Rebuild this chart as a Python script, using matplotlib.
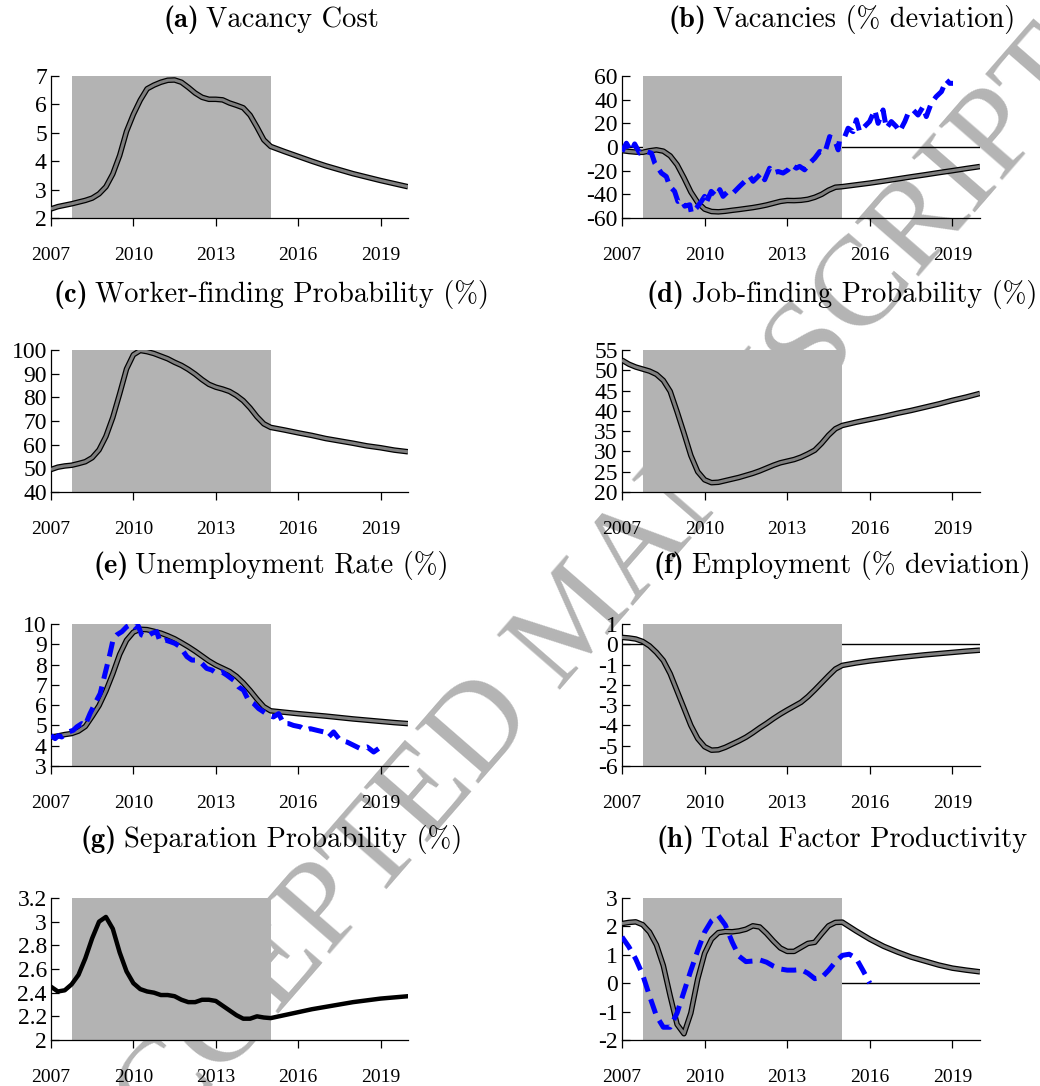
import numpy as np
import matplotlib
matplotlib.use("Agg")
import matplotlib.pyplot as plt

plt.rcParams['axes.unicode_minus'] = False
plt.rcParams['font.family'] = ['Liberation Serif', 'DejaVu Serif']

# --- time grid: quarterly during the episode, half-yearly afterwards ---
q_years = 2007 + 0.25 * np.arange(33)          # 2007.00 ... 2015.00
tail_years = [2015.5, 2016, 2016.5, 2017, 2017.5, 2018, 2018.5, 2019, 2019.5, 2020]
model_years = list(q_years) + tail_years

# --- model series (double line) ---
vac_cost = [2.32, 2.40, 2.45, 2.50, 2.56, 2.62, 2.70, 2.85, 3.10, 3.55, 4.20, 5.05,
            5.65, 6.15, 6.55, 6.68, 6.78, 6.85, 6.86, 6.78, 6.60, 6.40, 6.25, 6.18,
            6.18, 6.16, 6.05, 5.97, 5.88, 5.62, 5.20, 4.75, 4.52,
            4.34, 4.17, 4.00, 3.84, 3.70, 3.56, 3.44, 3.32, 3.21, 3.10]
vacancies = [-3.0, -3.8, -4.3, -4.5, -3.2, -2.4, -3.5, -7.5, -15, -26, -38, -47,
             -52.5, -54.5, -54.8, -54.3, -53.5, -52.8, -52.0, -51.2, -50.2, -49.0, -47.5, -46.0,
             -45.2, -45.3, -45.0, -44.2, -42.5, -40.0, -36.5, -34.0, -33.5,
             -32.0, -30.5, -28.8, -27.0, -25.2, -23.5, -21.7, -20.0, -18.2, -16.5]
worker_find = [49.5, 50.5, 51.0, 51.3, 52.0, 52.8, 54.5, 57.8, 63.5, 71.5, 81.5, 92.0,
               98.0, 99.8, 99.3, 98.5, 97.4, 96.3, 94.8, 93.5, 91.8, 89.8, 87.5, 85.5,
               84.3, 83.5, 82.5, 80.8, 78.6, 75.5, 71.8, 68.8, 67.3,
               66.2, 65.0, 63.9, 62.6, 61.6, 60.6, 59.5, 58.7, 57.7, 57.0]
job_find = [52.5, 51.5, 50.8, 50.3, 49.8, 49.0, 47.5, 44.8, 39.8, 34.5, 29.0, 25.0,
            23.0, 22.3, 22.4, 22.8, 23.2, 23.6, 24.1, 24.6, 25.2, 25.9, 26.6, 27.2,
            27.6, 28.0, 28.6, 29.4, 30.3, 32.0, 34.0, 35.6, 36.4,
            37.2, 37.9, 38.6, 39.4, 40.1, 40.9, 41.7, 42.6, 43.4, 44.3]
unemp = [4.43, 4.48, 4.55, 4.60, 4.72, 4.95, 5.45, 5.98, 6.70, 7.55, 8.50, 9.20,
         9.60, 9.74, 9.72, 9.64, 9.55, 9.42, 9.27, 9.08, 8.88, 8.66, 8.42, 8.18,
         7.98, 7.82, 7.66, 7.42, 7.10, 6.72, 6.30, 5.92, 5.72,
         5.65, 5.58, 5.52, 5.46, 5.39, 5.32, 5.26, 5.20, 5.14, 5.09]
employ = [0.34, 0.31, 0.26, 0.14, -0.08, -0.40, -0.80, -1.45, -2.30, -3.15, -4.00, -4.65,
          -5.05, -5.22, -5.20, -5.08, -4.92, -4.76, -4.58, -4.36, -4.12, -3.90, -3.66, -3.44,
          -3.24, -3.05, -2.86, -2.58, -2.25, -1.90, -1.55, -1.22, -1.04,
          -0.92, -0.82, -0.74, -0.66, -0.59, -0.52, -0.46, -0.40, -0.34, -0.29]
separation = [2.45, 2.41, 2.42, 2.47, 2.55, 2.69, 2.86, 3.00, 3.04, 2.94, 2.74, 2.58,
              2.48, 2.43, 2.41, 2.40, 2.38, 2.38, 2.37, 2.34, 2.32, 2.32, 2.34, 2.34,
              2.33, 2.29, 2.25, 2.21, 2.18, 2.18, 2.20, 2.19, 2.185,
              2.21, 2.235, 2.26, 2.28, 2.30, 2.32, 2.335, 2.35, 2.36, 2.37]
tfp = [2.10, 2.14, 2.16, 2.06, 1.80, 1.35, 0.62, -0.45, -1.45, -1.78, -1.05, 0.15,
       1.05, 1.55, 1.78, 1.82, 1.81, 1.84, 1.90, 2.02, 1.98, 1.75, 1.48, 1.24,
       1.12, 1.12, 1.26, 1.40, 1.44, 1.74, 2.02, 2.14, 2.15,
       1.84, 1.55, 1.30, 1.10, 0.92, 0.78, 0.64, 0.53, 0.46, 0.40]

# --- data series (blue dashed) ---
vac_data_x = [2007.00, 2007.16, 2007.34, 2007.46, 2007.64, 2007.88, 2008.07, 2008.19, 2008.43,
              2008.61, 2008.73, 2008.91, 2009.03, 2009.15, 2009.28, 2009.46, 2009.52, 2009.70,
              2009.88, 2010.00, 2010.06, 2010.24, 2010.43, 2010.55, 2010.67, 2010.85, 2011.03,
              2011.27, 2011.52, 2011.64, 2011.76, 2011.94, 2012.06, 2012.18, 2012.36, 2012.48,
              2012.67, 2012.85, 2013.03, 2013.15, 2013.33, 2013.45, 2013.63, 2013.82, 2014.00,
              2014.18, 2014.36, 2014.54, 2014.72, 2014.85, 2014.90, 2015.09, 2015.21, 2015.39,
              2015.51, 2015.63, 2015.81, 2015.99, 2016.18, 2016.30, 2016.48, 2016.60, 2016.78,
              2016.96, 2017.08, 2017.27, 2017.39, 2017.57, 2017.75, 2017.93, 2018.05, 2018.23,
              2018.41, 2018.60, 2018.78, 2018.90, 2019.02]
vac_data = [-3.8, 3.2, -3.8, 2.6, -5.2, -3.8, -5.2, -13.6, -22,
            -25, -33, -37.5, -46, -44.5, -50, -48.8, -55.8, -51.6,
            -46, -41.7, -47, -37.5, -41.7, -36, -41.7, -37.5, -39,
            -33.3, -27.7, -24.9, -29, -24.9, -22, -27.7, -17.9, -22,
            -20.7, -22, -19.3, -15, -17.9, -16.4, -19.3, -13.6, -9.4,
            -3.8, -5.2, 8.8, 6, -2.4, 6, 8.8, 15.9, 13,
            23, 13, 17.3, 21.5, 31.3, 20, 31.3, 15.9, 21.5,
            17.3, 13, 21.5, 28.5, 31.3, 27, 34, 25.7, 37,
            42.6, 46.8, 56.6, 53.8, 53.8]

unemp_data_x = [2007.00, 2007.15, 2007.27, 2007.39, 2007.63, 2007.81, 2007.94, 2008.12, 2008.24,
                2008.42, 2008.60, 2008.79, 2008.97, 2009.15, 2009.27, 2009.39, 2009.58, 2009.76,
                2009.94, 2010.06, 2010.18, 2010.30, 2010.49, 2010.67, 2010.85, 2010.97, 2011.16,
                2011.34, 2011.52, 2011.70, 2011.95, 2012.13, 2012.31, 2012.49, 2012.67, 2012.86,
                2013.04, 2013.22, 2013.40, 2013.65, 2013.83, 2014.01, 2014.19, 2014.38, 2014.56,
                2014.74, 2014.92, 2015.10, 2015.29, 2015.47, 2015.65, 2015.83, 2016.08, 2016.26,
                2016.44, 2016.68, 2016.93, 2017.11, 2017.29, 2017.53, 2017.78, 2018.02, 2018.26,
                2018.51, 2018.75, 2018.93]
unemp_data = [4.51, 4.35, 4.50, 4.43, 4.68, 4.76, 4.93, 5.09, 5.00,
              5.58, 6.08, 6.57, 7.56, 8.55, 9.29, 9.46, 9.62, 9.87,
              10.0, 9.84, 9.90, 9.46, 9.37, 9.54, 9.62, 9.13, 9.21,
              9.13, 9.04, 8.88, 8.39, 8.22, 8.22, 8.06, 7.81, 7.73,
              7.56, 7.64, 7.48, 7.23, 6.90, 6.74, 6.24, 6.08, 5.83,
              5.67, 5.50, 5.42, 5.58, 5.09, 5.09, 5.00, 4.93, 4.76,
              4.84, 4.76, 4.68, 4.43, 4.68, 4.27, 4.18, 4.02, 3.86,
              3.94, 3.69, 3.86]

tfp_data_x = list(2007 + 0.25 * np.arange(37))   # 2007.00 ... 2016.00
tfp_data = [1.63, 1.28, 0.85, 0.30, -0.45, -1.15, -1.55, -1.55, -1.05, -0.30, 0.45, 1.15,
            1.80, 2.20, 2.38, 2.05, 1.45, 0.95, 0.76, 0.78, 0.82, 0.74, 0.60, 0.50,
            0.46, 0.46, 0.48, 0.35, 0.16, 0.20, 0.45, 0.75, 0.98, 1.02, 0.88, 0.45, 0.00]

title_tags = ["(a)", "(b)", "(c)", "(d)", "(e)", "(f)", "(g)", "(h)"]
title_names = ["Vacancy Cost", "Vacancies (% deviation)",
               "Worker-finding Probability (%)", "Job-finding Probability (%)",
               "Unemployment Rate (%)", "Employment (% deviation)",
               "Separation Probability (%)", "Total Factor Productivity"]
x_ticks = [2007, 2010, 2013, 2016, 2019]
y_ticks = [[2, 3, 4, 5, 6, 7],
           [-60, -40, -20, 0, 20, 40, 60],
           [40, 50, 60, 70, 80, 90, 100],
           [20, 25, 30, 35, 40, 45, 50, 55],
           [3, 4, 5, 6, 7, 8, 9, 10],
           [-6, -5, -4, -3, -2, -1, 0, 1],
           [2, 2.2, 2.4, 2.6, 2.8, 3, 3.2],
           [-2, -1, 0, 1, 2, 3]]
models = [vac_cost, vacancies, worker_find, job_find, unemp, employ, separation, tfp]

W, H = 1040, 1086
fig = plt.figure(figsize=(W / 100, H / 100), dpi=100)
renderer = fig.canvas.get_renderer()

# watermark
fig.text(578 / W, 1 - 622 / H, "ACCEPTED MANUSCRIPT", fontsize=92, color='#b4b4b4',
         rotation=49, ha='center', va='center', rotation_mode='anchor',
         family='Liberation Serif', zorder=-5)

lefts = [51, 622]
widths = [357, 358]
tops = [76, 350, 624, 898]
title_x = [271, 842]
title_base = [26.7, 301.7, 572.5, 846.7]

for i in range(8):
    r, c = divmod(i, 2)
    ax = fig.add_axes([lefts[c] / W, 1 - (tops[r] + 142) / H, widths[c] / W, 142 / H])
    ax.patch.set_alpha(0)
    yt = y_ticks[i]
    ax.set_xlim(2007, 2020)
    ax.set_ylim(yt[0], yt[-1])
    ax.axvspan(2007.75, 2015, color='#b3b3b3', lw=0, zorder=1)

    if i in (1, 5):
        ax.axhline(0, color='black', lw=1.0, zorder=0.5)
    if i == 7:
        ax.plot([2015, 2020], [0, 0], color='black', lw=1.0, zorder=0.5)

    if i == 6:
        ax.plot(model_years, models[i], color='black', lw=3.2, zorder=3)
    else:
        ax.plot(model_years, models[i], color='black', lw=4.0, zorder=3,
                solid_capstyle='butt')
        ax.plot(model_years, models[i], color='#7f7f7f', lw=2.2, zorder=4,
                solid_capstyle='butt')

    if i == 1:
        ax.plot(vac_data_x, vac_data, color='blue', lw=3.6, ls=(0, (3.0, 1.6)), zorder=5)
    if i == 4:
        ax.plot(unemp_data_x, unemp_data, color='blue', lw=3.6, ls=(0, (3.0, 1.6)), zorder=5)
    if i == 7:
        ax.plot(tfp_data_x, tfp_data, color='blue', lw=3.6, ls=(0, (3.0, 1.6)), zorder=5)

    for s in ('top', 'right'):
        ax.spines[s].set_visible(False)
    for s in ('left', 'bottom'):
        ax.spines[s].set_linewidth(0.9)

    ax.set_xticks(x_ticks)
    ax.set_xticklabels([str(t) for t in x_ticks])
    ax.set_yticks(yt)
    ax.set_yticklabels([('%g' % t) for t in yt])
    ax.tick_params(axis='x', direction='out', length=6, width=0.9, pad=15, labelsize=14)
    ax.tick_params(axis='y', direction='in', length=6, width=0.9, pad=3, labelsize=17)

    # title: bold tag + roman text, centred as a pair
    yb = 1 - title_base[r] / H
    t1 = fig.text(0, yb, title_tags[i], family='cmb10', fontsize=20.5, va='baseline')
    t2 = fig.text(0, yb, title_names[i], family='cmr10', fontsize=20.5, va='baseline')
    w1 = t1.get_window_extent(renderer).width
    w2 = t2.get_window_extent(renderer).width
    gap = 7
    x0 = title_x[c] - (w1 + gap + w2) / 2
    t1.set_x(x0 / W)
    t2.set_x((x0 + w1 + gap) / W)

fig.savefig("out.png", dpi=100)
